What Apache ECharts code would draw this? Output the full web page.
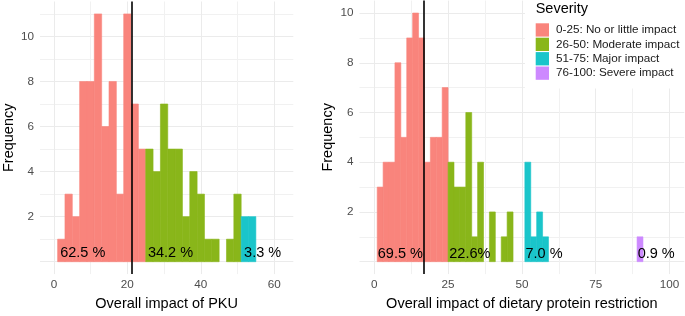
<!DOCTYPE html>
<html><head><meta charset="utf-8">
<script src="https://cdn.jsdelivr.net/npm/echarts@6/dist/echarts.min.js"></script>
<style>html,body{margin:0;padding:0;background:#fff}#c{width:685px;height:316px}</style>
</head><body><div id="c"></div>
<script>
// ---------------- data ----------------
const severityNames = ['0-25: No or little impact', '26-50: Moderate impact', '51-75: Major impact', '76-100: Severe impact'];
const binWidth = 2;
const pkuBinStarts = [1,3,5,7,9,11,13,15,17,19,21,23,25,27,29,31,33,35,37,39,41,43,45,47,49,51,53];
const pkuCounts    = [1,3,2,8,8,11,6,8,3,11,7,5,5,4,7,5,5,2,4,3,1,1,0,1,3,2,2];
const dietBinStarts = [1,3,5,7,9,11,13,15,17,19,21,23,25,27,29,31,33,35,37,39,41,43,45,47,49,51,53,55,57,89];
const dietCounts    = [3,4,4,8,5,9,10,9,4,5,5,7,4,3,3,6,1,4,0,2,0,1,2,0,0,4,1,2,1,1];
const pkuVLine = 21.2;
const dietVLine = 16.8;
const pkuPctLabels = ['62.5 %', '34.2 %', '3.3 %'];
const dietPctLabels = ['69.5 %', '22.6%', '7.0 %', '0.9 %'];
const pkuXTickLabels = [0, 20, 40, 60];
const dietXTickLabels = [0, 25, 50, 75, 100];
const yTickLabels = [2, 4, 6, 8, 10];
const pkuXTitle = 'Overall impact of PKU';
const dietXTitle = 'Overall impact of dietary protein restriction';
const yTitle = 'Frequency';
const legendTitle = 'Severity';

// ---------------- styling / placement ----------------
const FONT = '"Liberation Sans", Arial, sans-serif';
const colors = ['#F9847C', '#89B61A', '#1AC5CA', '#CD89FF'];
const severityUpper = [25, 51, 75, 1000];
const pkuLabelAt = [[1.7, 0.37], [25.6, 0.37], [51.8, 0.37]];
const dietLabelAt = [[1.2, 0.3], [25.4, 0.3], [51.2, 0.3], [89.2, 0.3]];
const pkuXGrid = [0,10,20,30,40,50,60];
const dietXGrid = [0,12.5,25,37.5,50,62.5,75,87.5,100];
const pkuYGrid = [0,1,2,3,4,5,6,7,8,9,10,11];
const dietYGrid = [0,1,2,3,4,5,6,7,8,9,10];

function groupOf(start) {
  for (let g = 0; g < severityUpper.length; g++) if (start < severityUpper[g]) return g;
  return 3;
}

function barSeries(starts, counts, gridIdx) {
  const out = [];
  for (let g = 0; g < 4; g++) {
    const data = [];
    starts.forEach((s, i) => { if (groupOf(s) === g && counts[i] > 0) data.push([s, s + binWidth, counts[i]]); });
    out.push({
      type: 'custom', name: severityNames[g], xAxisIndex: gridIdx, yAxisIndex: gridIdx,
      itemStyle: { color: colors[g] },
      encode: { x: [0, 1], y: 2 },
      z: 2,
      renderItem: (params, api) => {
        const x0 = api.value(0), x1 = api.value(1), c = api.value(2);
        const p0 = api.coord([x0, c]);
        const p1 = api.coord([x1, 0]);
        return {
          type: 'rect',
          shape: { x: p0[0], y: p0[1], width: p1[0] - p0[0], height: p1[1] - p0[1] },
          style: { fill: colors[g], stroke: colors[g], lineWidth: 0.6 }
        };
      },
      data: data
    });
  }
  return out;
}

function textSeries(labels, at, gridIdx, vline) {
  return {
    type: 'custom', name: 'pct' + gridIdx, xAxisIndex: gridIdx, yAxisIndex: gridIdx, z: 3,
    encode: { x: 0, y: 1 },
    renderItem: (params, api) => {
      const p = api.coord([api.value(0), api.value(1)]);
      return {
        type: 'text', x: p[0], y: p[1],
        style: { text: labels[params.dataIndex], fill: '#000', fontSize: 14.5, fontFamily: FONT, align: 'left', verticalAlign: 'middle' }
      };
    },
    data: at.map(a => [a[0], a[1]]),
    markLine: {
      silent: true, symbol: 'none', animation: false,
      label: { show: false },
      lineStyle: { color: '#000', width: 1.6, type: 'solid' },
      emphasis: { disabled: true },
      data: [{ xAxis: vline }]
    }
  };
}

function xAxisOf(gridIdx, min, max, gridVals, labelVals, title) {
  return {
    gridIndex: gridIdx, type: 'value', min: min, max: max,
    axisLine: { show: false },
    axisTick: { show: false, customValues: gridVals },
    axisLabel: { customValues: labelVals, color: '#4D4D4D', fontSize: 11.7, fontFamily: FONT, margin: 5 },
    splitLine: { show: true, lineStyle: { color: ['#EBEBEB', '#F1F1F1'], width: 1 } },
    name: title, nameLocation: 'middle', nameGap: 20,
    nameTextStyle: { fontSize: 14.5, color: '#000', fontFamily: FONT }
  };
}
function yAxisOf(gridIdx, min, max, gridVals) {
  return {
    gridIndex: gridIdx, type: 'value', min: min, max: max,
    axisLine: { show: false },
    axisTick: { show: false, customValues: gridVals },
    axisLabel: { customValues: yTickLabels, color: '#4D4D4D', fontSize: 11.7, fontFamily: FONT, margin: 6 },
    splitLine: { show: true, lineStyle: { color: ['#EBEBEB', '#F1F1F1'], width: 1 } },
    name: yTitle, nameLocation: 'middle', nameGap: 24, nameRotate: 90,
    nameTextStyle: { fontSize: 14.5, color: '#000', fontFamily: FONT }
  };
}

const chart = echarts.init(document.getElementById('c'), null, { renderer: 'canvas' });
chart.setOption({
  animation: false,
  backgroundColor: '#fff',
  textStyle: { fontFamily: FONT },
  grid: [
    { left: 38.3, top: 1.5, width: 255, height: 278.8 },
    { left: 359.5, top: 0.6, width: 324.8, height: 279.2 }
  ],
  xAxis: [
    xAxisOf(0, -3.8, 65.2, pkuXGrid, pkuXTickLabels, pkuXTitle),
    xAxisOf(1, -5, 105, dietXGrid, dietXTickLabels, dietXTitle)
  ],
  yAxis: [
    yAxisOf(0, -0.55, 11.55, pkuYGrid),
    yAxisOf(1, -0.5, 10.5, dietYGrid)
  ],
  legend: {
    data: severityNames, orient: 'vertical', left: 525, top: 0, z: 100,
    backgroundColor: '#fff',
    padding: [23.3, 8, 8.6, 10.7],
    icon: 'rect', itemWidth: 13.3, itemHeight: 13.3, itemGap: 1.1,
    selectedMode: false,
    textStyle: { fontSize: 11.7, color: '#1A1A1A', fontFamily: FONT, padding: [0, 0, 0, 2] }
  },
  graphic: [
    { type: 'text', left: 535.7, top: 1.5, z: 200,
      style: { text: legendTitle, fontSize: 14.5, fill: '#000', fontFamily: FONT } }
  ],
  series: [].concat(
    barSeries(pkuBinStarts, pkuCounts, 0),
    barSeries(dietBinStarts, dietCounts, 1),
    [textSeries(pkuPctLabels, pkuLabelAt, 0, pkuVLine), textSeries(dietPctLabels, dietLabelAt, 1, dietVLine)]
  )
});
</script></body></html>
